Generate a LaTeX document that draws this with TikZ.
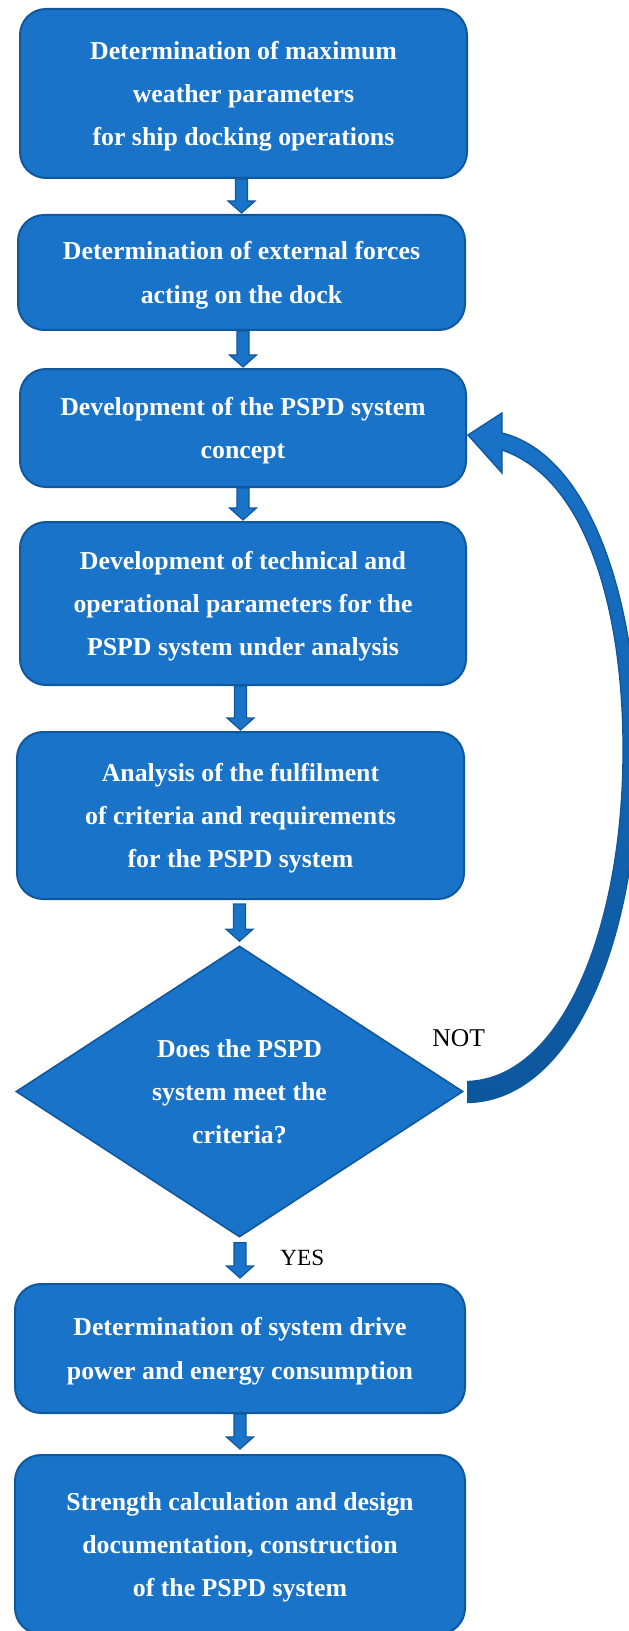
\documentclass[tikz,border=0pt]{standalone}
\usepackage{fontspec}
\setmainfont{Liberation Serif}
\usetikzlibrary{shapes.geometric,calc}

\definecolor{boxfill}{RGB}{25,115,200}
\definecolor{boxline}{RGB}{16,88,158}
\definecolor{arcdark}{RGB}{12,86,156}

\tikzset{
  boxtext/.style={text=white, align=center,
    font=\fontsize{12.9}{21.7}\selectfont\bfseries,
    % a negative depth sets the text block a little lower in its shape
    text depth=-3.4pt},
  stepbox/.style={boxtext, draw=boxline, fill=boxfill, line width=1pt,
    rounded corners=13pt, inner sep=0pt},
  decision/.style={boxtext, text depth=-7.5pt, diamond, aspect=1.536,
    draw=boxline, fill=boxfill, line width=0.8pt, inner sep=0pt},
  answer/.style={inner sep=0pt, anchor=base west},
  % short block arrow pointing down from one node to the next
  blockarrow/.style={draw=boxline, fill=boxfill, line width=0.6pt,
    to path={let \p1=(\tikztostart), \p2=(\tikztotarget) in
      (\x2-3pt,\y1) -- (\x2-3pt,\y2+6.5pt) -- (\x2-6.75pt,\y2+6.5pt)
      -- (\x2,\y2+0.5pt) -- (\x2+6.75pt,\y2+6.5pt) -- (\x2+3pt,\y2+6.5pt)
      -- (\x2+3pt,\y1) -- cycle}},
}

\begin{document}
\begin{tikzpicture}[x=0.5pt,y=-0.5pt]
\useasboundingbox (0,0) rectangle (628,1631);

\node[stepbox, minimum width=223.5pt, minimum height=84.5pt] (b1) at (243.5,93.5)
  {Determination of maximum\\weather parameters\\for ship docking operations};
\node[stepbox, minimum width=223.5pt, minimum height=57.5pt] (b2) at (241.5,272.5)
  {Determination of external forces\\acting on the dock};
\node[stepbox, minimum width=223pt, minimum height=59pt] (b3) at (243,428)
  {Development of the PSPD system\\concept};
\node[stepbox, minimum width=223pt, minimum height=81.5pt] (b4) at (243,603.5)
  {Development of technical and\\operational parameters for the\\PSPD system under analysis};
\node[stepbox, minimum width=223.5pt, minimum height=83.5pt] (b5) at (240.5,815.5)
  {Analysis of the fulfilment\\of criteria and requirements\\for the PSPD system};
\node[decision, minimum width=223.5pt, minimum height=145.5pt] (d) at (239.5,1091.5)
  {Does the PSPD\\system meet the\\criteria?};
\node[stepbox, minimum width=225pt, minimum height=64.5pt] (b6) at (240,1348.5)
  {Determination of system drive\\power and energy consumption};
\node[stepbox, minimum width=225pt, minimum height=89.5pt] (b7) at (240,1544.5)
  {Strength calculation and design\\documentation, construction\\of the PSPD system};

% straight flow arrows
\path[blockarrow] (b1.south) to (b2.north);
\path[blockarrow] (b2.south) to (b3.north);
\path[blockarrow] (b3.south) to (b4.north);
\path[blockarrow] (b4.south) to (b5.north);
\path[blockarrow] ($(b5.south)+(0,4)$) to ($(d.north)+(0,-3)$);
\path[blockarrow] ($(d.south)+(0,5)$) to ($(b6.north)+(0,-4)$);
\path[blockarrow] (b6.south) to ($(b7.north)+(0,-4)$);

% curved return arrow from the decision back to the concept step
\shade[top color=boxfill, bottom color=arcdark, draw=boxline, line width=0.7pt]
  ($(d.east)+(4,-10)$)
  .. controls (562,1078) and (621,930) .. (623,760)
  .. controls (625,620) and (590,480) .. (502,450)
  -- (502,473) -- ($(b3.east)+(1,7)$) -- (502,413) -- (502,433)
  .. controls (590,455) and (638,600) .. (638,760)
  .. controls (638,930) and (577,1100) .. ($(d.east)+(4,11)$) -- cycle;

\node[answer, font=\fontsize{12.8}{15}\selectfont] (no) at (432,1046) {NOT};
\node[answer, font=\fontsize{11.6}{14}\selectfont] (yes) at (280,1265) {YES};
\end{tikzpicture}
\end{document}
